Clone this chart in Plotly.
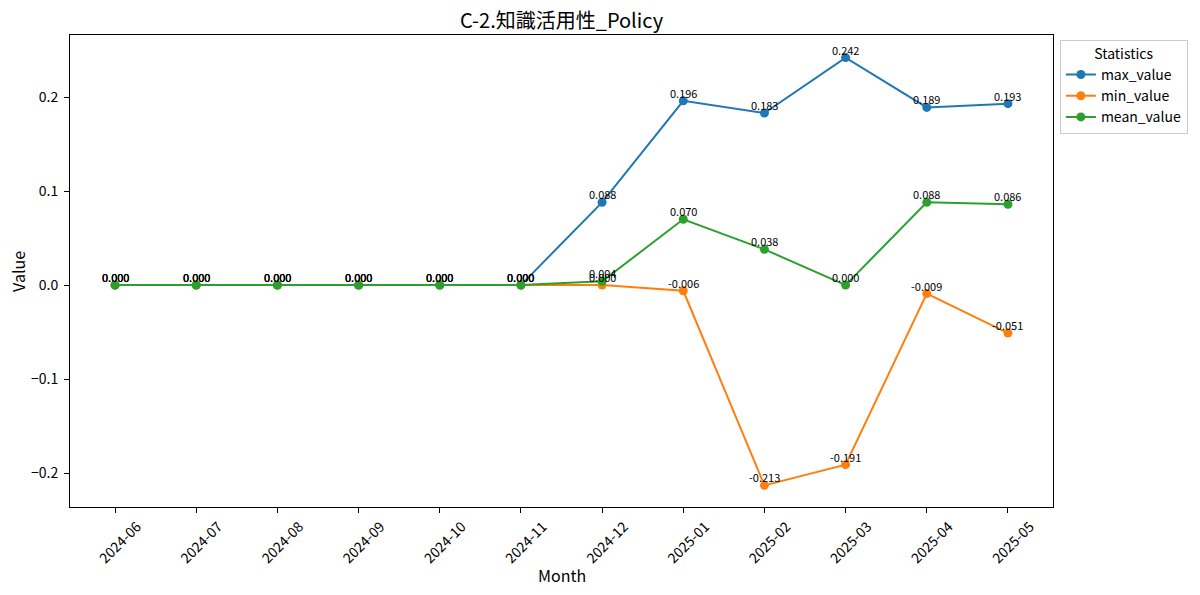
import plotly.graph_objects as go

months = ["2024-06", "2024-07", "2024-08", "2024-09", "2024-10", "2024-11",
          "2024-12", "2025-01", "2025-02", "2025-03", "2025-04", "2025-05"]
max_value = [0.000, 0.000, 0.000, 0.000, 0.000, 0.000, 0.088, 0.196, 0.183, 0.242, 0.189, 0.193]
min_value = [0.000, 0.000, 0.000, 0.000, 0.000, 0.000, 0.000, -0.006, -0.213, -0.191, -0.009, -0.051]
mean_value = [0.000, 0.000, 0.000, 0.000, 0.000, 0.000, 0.004, 0.070, 0.038, 0.000, 0.088, 0.086]

series = [("max_value", max_value, "#1f77b4"),
          ("min_value", min_value, "#ff7f0e"),
          ("mean_value", mean_value, "#2ca02c")]

FONT = "Noto Sans CJK JP"
fig = go.Figure()
for name, vals, color in series:
    fig.add_trace(go.Scatter(
        x=months, y=vals, name=name, mode="lines+markers",
        line=dict(color=color, width=2), marker=dict(color=color, size=9),
        cliponaxis=False,
    ))
for name, vals, color in series:
    for m, v in zip(months, vals):
        fig.add_annotation(x=m, y=v, text=f"{v:.3f}", showarrow=False,
                           yanchor="middle", yshift=8,
                           font=dict(size=11, color="black", family=FONT))

# axis titles
fig.add_annotation(text="Month", xref="paper", yref="paper", x=0.5, y=-0.144,
                   xanchor="center", yanchor="middle", showarrow=False,
                   font=dict(size=16, family=FONT, color="black"))
fig.add_annotation(text="Value", xref="paper", yref="paper", x=-0.053, y=0.5,
                   xanchor="center", yanchor="middle", showarrow=False, textangle=-90,
                   font=dict(size=16, family=FONT, color="black"))

fig.update_layout(
    width=1200, height=595,
    margin=dict(l=62, r=155, t=27, b=96, autoexpand=False),
    paper_bgcolor="white", plot_bgcolor="white",
    font=dict(family=FONT, color="black"),
    title=dict(text="C-2.知識活用性_Policy", x=0.5, xref="paper", xanchor="center",
               y=0.978, yanchor="middle", font=dict(size=20, family=FONT)),
    legend=dict(title=dict(text="Statistics", side="top center", font=dict(size=14)),
                x=1.007, xanchor="left", y=0.99, yanchor="top",
                bordercolor="#cccccc", borderwidth=1, font=dict(size=14),
                bgcolor="white", itemwidth=30),
    showlegend=True,
)
fig.update_xaxes(
    type="category", automargin=False,
    range=[-0.555, 11.555], showline=True, linecolor="black", linewidth=1, mirror=True,
    ticks="outside", ticklen=5, tickcolor="black", tickangle=-45, showgrid=False,
    tickfont=dict(size=14), zeroline=False, ticklabelshift=22,
)
fig.update_yaxes(
    automargin=False,
    range=[-0.236, 0.266], showline=True, linecolor="black", linewidth=1, mirror=True,
    ticks="outside", ticklen=5, tickcolor="black", showgrid=False, zeroline=False,
    tickvals=[-0.2, -0.1, 0.0, 0.1, 0.2], ticktext=["−0.2", "−0.1", "0.0", "0.1", "0.2"],
    tickfont=dict(size=14), ticklabelstandoff=3,
)
fig.write_html("out.html")
